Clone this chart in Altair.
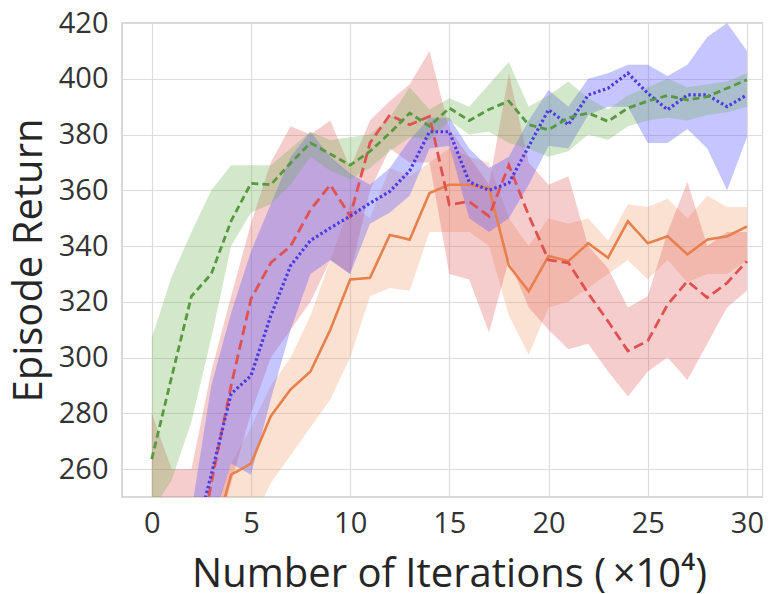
import altair as alt
import pandas as pd

iterations = list(range(31))

green_mean = [263.6, 293, 322, 330, 349, 362.5, 362, 369.8, 377, 373, 369, 374, 380.5, 387.7, 383, 389.5,
              385, 389, 392, 383.5, 381.7, 386, 387.7, 384.7, 389.5, 392, 394, 392.4, 393.6, 396.6, 399.6]
green_lo = [245, 256, 277, 307, 340, 352, 355, 362, 372, 367, 364, 368, 374, 379, 378, 385,
            380, 381, 377, 375, 372, 374, 380, 378, 383, 385, 386, 385, 387, 388, 390]
green_hi = [307, 329, 345, 360, 369, 369, 369, 375, 381, 378, 379, 380, 386, 397, 389, 393,
            390, 398, 406, 390, 394, 399, 393, 389, 394, 397, 400, 397, 398, 399, 402]

red_mean = [240, 230, 215, 255, 290, 321, 334, 340, 353, 362, 350.7, 377, 387, 383.5, 386.5, 354.8,
            356, 350.7, 369, 351, 335, 334, 323, 313, 302.4, 306, 319, 327.4, 321.5, 326.8, 334.6]
red_lo = [230, 220, 220, 230, 255, 280, 300, 310, 320, 335, 330, 360, 375, 370, 370, 330,
          328, 309, 335, 318, 310, 303, 305, 295, 286, 295, 300, 292, 305, 318, 324]
red_hi = [280, 260, 260, 295, 322, 348, 370, 383, 380, 385, 368, 385, 392, 398, 410, 382,
          372, 362, 402, 370, 362, 365, 340, 332, 318, 322, 345, 363, 340, 345, 345]

blue_mean = [215, 220, 230, 258, 287, 293.5, 315, 333, 342, 346.5, 350.7, 355.4, 359.6, 367, 381, 381,
             363, 360, 362.6, 375.7, 388.9, 383.5, 394.2, 396.6, 402, 394.8, 388.9, 394.2, 394.2, 390, 394.2]
blue_lo = [205, 210, 222, 240, 262, 258, 285, 310, 330, 335, 330, 348, 352, 358, 375, 376,
           350, 345, 350, 362, 376, 375, 387, 390, 390, 377, 377, 382, 375, 360, 379]
blue_hi = [225, 230, 245, 290, 316, 338, 355, 372, 381, 372, 366, 362, 368, 378, 386, 386,
           375, 368, 372, 385, 396, 390, 400, 402, 405, 405, 401, 405, 415, 420, 410]

orange_mean = [200, 205, 215, 232, 258, 262, 279, 288.6, 295, 310, 328, 328.6, 344, 342.3, 359, 362,
               362, 360.8, 333, 323.8, 336.4, 334.6, 341, 335.8, 348.9, 341, 343.5, 337, 342.3, 343.5, 347]
orange_lo = [190, 195, 205, 220, 230, 240, 255, 265, 275, 285, 300, 322, 325, 324, 345, 345,
             345, 340, 315, 301, 318, 320, 325, 330, 335, 328, 335, 327, 330, 330, 335]
orange_hi = [210, 215, 225, 242, 262, 275, 290, 300, 315, 335, 355, 350, 368, 365, 370, 375,
             372, 370, 350, 340, 350, 348, 350, 342, 355, 354, 357, 350, 358, 354, 354]

FONT = "Open Sans"

x_scale = alt.Scale(domain=[-1.5, 30.81], nice=False, zero=False)
y_scale = alt.Scale(domain=[250, 420], nice=False, zero=False)

x_axis = alt.Axis(values=[0, 5, 10, 15, 20, 25, 30], title="Number of Iterations (\u2009×10⁴)",
                  grid=True, gridColor="#dcdcdc", gridWidth=1.2, ticks=False, tickSize=0,
                  domain=False, labelFont=FONT, labelFontSize=29, labelColor="#333333",
                  labelPadding=12, titleFont=FONT, titleFontSize=40, titleFontWeight="normal",
                  titleColor="#262626", titleX=327, titleY=89, titleAlign="center",
                  titleBaseline="alphabetic")
y_axis = alt.Axis(values=[260, 280, 300, 320, 340, 360, 380, 400, 420], title="Episode Return",
                  grid=True, gridColor="#dcdcdc", gridWidth=1.2, ticks=False, tickSize=0,
                  domain=False, labelFont=FONT, labelFontSize=29, labelColor="#333333",
                  labelPadding=14, titleFont=FONT, titleFontSize=40, titleFontWeight="normal",
                  titleColor="#262626", titleAngle=-90, titleX=-81, titleY=237,
                  titleAlign="center", titleBaseline="alphabetic")

series = [
    ("orange", orange_mean, orange_lo, orange_hi),
    ("red", red_mean, red_lo, red_hi),
    ("blue", blue_mean, blue_lo, blue_hi),
    ("green", green_mean, green_lo, green_hi),
]
styles = {
    "orange": dict(line="#e8804c", fill="#f29a66", opacity=0.3, dash=[1, 0], width=2.6),
    "red": dict(line="#e05252", fill="#e25b5b", opacity=0.3, dash=[10, 5], width=2.8),
    "blue": dict(line="#4a3be6", fill="#5a5aff", opacity=0.35, dash=[2.5, 2.5], width=3.2),
    "green": dict(line="#56993f", fill="#6cb152", opacity=0.3, dash=[7, 4], width=2.8),
}

bands = []
lines = []
for name, mean, lo, hi in series:
    df = pd.DataFrame({"x": iterations, "mean": mean, "lo": lo, "hi": hi})
    st = styles[name]
    bands.append(
        alt.Chart(df).mark_area(color=st["fill"], opacity=st["opacity"], clip=True).encode(
            x=alt.X("x:Q", scale=x_scale, axis=x_axis),
            y=alt.Y("lo:Q", scale=y_scale, axis=y_axis),
            y2="hi:Q",
        )
    )
    lines.append(
        alt.Chart(df).mark_line(color=st["line"], strokeDash=st["dash"], strokeWidth=st["width"],
                                clip=True).encode(
            x=alt.X("x:Q", scale=x_scale, axis=x_axis),
            y=alt.Y("mean:Q", scale=y_scale, axis=y_axis),
        )
    )

chart = alt.layer(*bands, *lines).properties(
    width=641,
    height=474,
    autosize=alt.AutoSizeParams(type="none"),
    padding={"left": 114, "top": 15, "right": 0, "bottom": 100},
    background="white",
).configure_view(stroke="#cccccc", strokeWidth=1.5)

chart.save("out.html", embed_options={"renderer": "svg", "actions": False})
